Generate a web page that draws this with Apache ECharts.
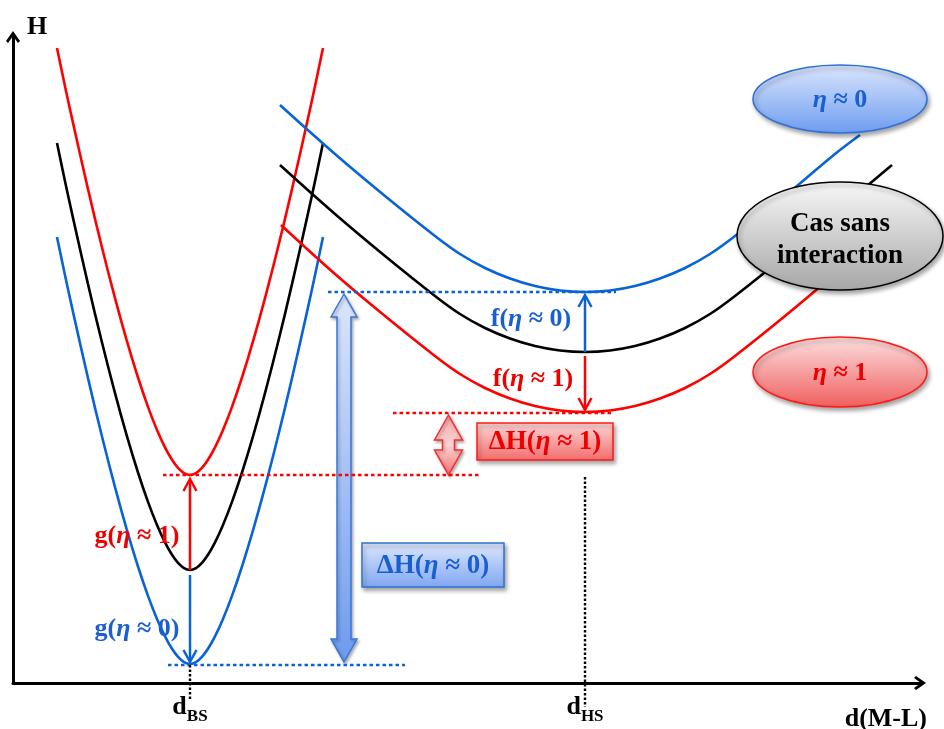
<!DOCTYPE html>
<html>
<head>
<meta charset="utf-8">
<script src="https://cdn.jsdelivr.net/npm/echarts@6/dist/echarts.min.js"></script>
<style>html,body{margin:0;padding:0;background:#fff}#chart{width:944px;height:729px}</style>
</head>
<body>
<div id="chart"></div>
<script>
// ---- values (x: d(M-L), y: H, arbitrary units from the axes corner) ----
// low-spin well (around d_BS)
const bsRed   = [[44,635],[52,596.8],[60,560.1],[75,493.9],[89,435.5],[102,384.9],[114,341.6],[125,305.5],[135,276.1],[144,253],[152,235.6],[159,223.2],[165,215.2],[171,209.9],[177,208],
                 [183,209.9],[189,215.2],[195,223.2],[202,235.6],[210,253],[219,276.1],[229,305.5],[240,341.6],[252,384.9],[265,435.5],[279,493.9],[294,560.1],[302,596.8],[310,635]];
const bsBlack = [[44,540],[52,501.8],[60,465.1],[75,398.9],[89,340.5],[102,289.9],[114,246.6],[125,210.5],[135,181.1],[144,158],[152,140.6],[159,128.2],[165,120.2],[171,114.9],[177,113],
                 [183,114.9],[189,120.2],[195,128.2],[202,140.6],[210,158],[219,181.1],[229,210.5],[240,246.6],[252,289.9],[265,340.5],[279,398.9],[294,465.1],[302,501.8],[310,540]];
const bsBlue  = [[44,446],[52,407.8],[60,371.1],[75,304.9],[89,246.5],[102,195.9],[114,152.6],[125,116.5],[135,87.1],[144,64],[152,46.6],[159,34.2],[165,26.2],[171,20.9],[177,19],
                 [183,20.9],[189,26.2],[195,34.2],[202,46.6],[210,64],[219,87.1],[229,116.5],[240,152.6],[252,195.9],[265,246.5],[279,304.9],[294,371.1],[302,407.8],[310,446]];
// high-spin well (around d_HS)
const hsBlue  = [[267,578],[322,529],[372,487],[422,447],[447,429],[472,415],[497,404.5],[522,397],[547,392.5],[572,391],[597,392.5],[622,397],[647,404.5],[672,415],[697,429],[722,447],[772,487],[822,529],[847,548]];
const hsBlack = [[267,518],[322,469],[372,427],[422,387],[447,369],[472,355],[497,344.5],[522,337],[547,332.5],[572,331],[597,332.5],[622,337],[647,344.5],[672,355],[697,369],[722,387],[772,427],[822,469],[847,491],[879,518]];
const hsRed   = [[268,458],[322,409],[372,367],[422,327],[447,309],[472,295],[497,284.5],[522,277],[547,272.5],[572,271],[597,272.5],[622,277],[647,284.5],[672,295],[697,309],[722,327],[772,367],[822,409],[847,431]];
// dotted reference levels / markers
const levelBlueHS = [[315,391],[603,391]];
const levelRedHS  = [[380,270],[600,270]];
const levelRedBS  = [[150,208],[468,208]];
const levelBlueBS = [[155,18],[392,18]];
const markerBS    = [[177,18],[177,-16]];
const markerHS    = [[572,206],[572,-24]];
// thin arrows: [x, from H, to H]
const thinArrows = [[177,113,204],[177,108,21],[572,331,388],[572,327,273]];
// block (double) arrows: [x, H top, H bottom]
const blockArrows = [[331,389,21],[435.5,268,208]];
// boxes: [center x, center H, width, height]
const boxes = [[532,241.5,136,37],[420,118,142,44]];
const boxTexts = ['ΔH(η ≈ 1)', 'ΔH(η ≈ 0)'];
// ellipses: [center x, center H, rx, ry]
const ellipses = [[827,584,87,34],[827,447,103,54],[827,311,87,35]];
const ellipseTexts = ['η ≈ 0', 'Cas sans\ninteraction', 'η ≈ 1'];
// curve labels
const curveLabelPos = [[518,364],[520,304],[124,147],[124,54]];
const curveLabelTexts = ['f(η ≈ 0)', 'f(η ≈ 1)', 'g(η ≈ 1)', 'g(η ≈ 0)'];
// x tick labels
const tickValues = [177, 572];
const tickTexts = [['d','BS'], ['d','HS']];

// ---- styles ----
const BLUE = '#0863d6', RED = '#ff0000', BLACK = '#000000';
const TBLUE = '#1a5fd0', TRED = '#ec0000';
const FONT = '"Liberation Serif","Times New Roman",serif';
const thinArrowColors = [RED, BLUE, BLUE, RED];
const blockStyle = [
  {shaft:14, head:26, headLen:23, top:'#dce6fb', bottom:'#6e9bef', stroke:'#3a78dc'},
  {shaft:12, head:28, headLen:25, top:'#f7a3a3', bottom:'#f07070', stroke:'#ff2a2a', mid:'#fbd3d3'}
];
const boxStyle = [
  {top:'#fdd6d6', bottom:'#f26c6c', stroke:'#ff1a1a', text:TRED, fs:27},
  {top:'#dde7fc', bottom:'#80a6f1', stroke:'#2f70d8', text:TBLUE, fs:27}
];
const ellipseStyle = [
  {top:'#dbe6fc', bottom:'#6e9cf0', stroke:'#2d70d8', text:TBLUE, fs:26, lh:30, dy:1},
  {top:'#f8f8f8', bottom:'#a6a6a6', stroke:'#000000', text:'#000000', fs:27, lh:32, dy:4},
  {top:'#fde0e0', bottom:'#ef5e5e', stroke:'#ff1a1a', text:TRED, fs:26, lh:30, dy:1}
];
const labelColors = [TBLUE, TRED, TRED, TBLUE];

function grad(stops) {
  return new echarts.graphic.LinearGradient(0, 0, 0, 1,
    stops.map((c, k) => ({offset: k / (stops.length - 1), color: c})));
}
function richEta(size, color) {
  return { i: {fontStyle:'italic', fontWeight:'bold', fontSize:size, fontFamily:FONT, fill:color} };
}
function fmt(t) { return t.replace(/η/g, '{i|η}'); }

function lineSeries(data, color, width, dash, z, smooth) {
  return {
    type:'line', data:data, symbol:'none', showSymbol:false, smooth:smooth || false,
    clip:false, silent:true, z:z,
    lineStyle:{color:color, width:width, type:dash || 'solid', cap:'butt'}
  };
}

const series = [
  // block arrows (behind)
  {
    type:'custom', z:1, silent:true, data:blockArrows,
    renderItem(params, api) {
      const st = blockStyle[params.dataIndex];
      const a = api.coord([api.value(0), api.value(1)]);
      const b = api.coord([api.value(0), api.value(2)]);
      const x = a[0], yt = Math.min(a[1], b[1]), yb = Math.max(a[1], b[1]);
      const hw = st.head / 2, sw = st.shaft / 2, hl = st.headLen;
      const pts = [[x,yt],[x+hw,yt+hl],[x+sw,yt+hl],[x+sw,yb-hl],[x+hw,yb-hl],[x,yb],
                   [x-hw,yb-hl],[x-sw,yb-hl],[x-sw,yt+hl],[x-hw,yt+hl]];
      const fill = st.mid ? grad([st.top, st.mid, st.bottom]) : grad([st.top, st.bottom]);
      return {type:'polygon', shape:{points:pts},
        style:{fill:fill, stroke:st.stroke, lineWidth:1.5,
               shadowBlur:3, shadowOffsetX:1.5, shadowOffsetY:2, shadowColor:'rgba(0,0,0,0.3)'}};
    }
  },
  lineSeries(bsRed, RED, 2.6, null, 2, 0.4),
  lineSeries(bsBlack, BLACK, 2.6, null, 2, 0.4),
  lineSeries(bsBlue, BLUE, 2.6, null, 2, 0.4),
  lineSeries(hsBlue, BLUE, 2.6, null, 2, 0.4),
  lineSeries(hsBlack, BLACK, 2.6, null, 2, 0.4),
  lineSeries(hsRed, RED, 2.6, null, 2, 0.4),
  lineSeries(levelBlueHS, BLUE, 2.6, [3.5,3], 3),
  lineSeries(levelRedHS, RED, 2.6, [3.5,3], 3),
  lineSeries(levelRedBS, RED, 2.6, [3.5,3], 3),
  lineSeries(levelBlueBS, BLUE, 2.6, [3.5,3], 3),
  lineSeries(markerBS, BLACK, 2.4, [2.5,2], 3),
  lineSeries(markerHS, BLACK, 2.4, [2.5,2], 3),
  // thin arrows
  {
    type:'custom', z:4, silent:true, data:thinArrows,
    renderItem(params, api) {
      const col = thinArrowColors[params.dataIndex];
      const p1 = api.coord([api.value(0), api.value(1)]);
      const p2 = api.coord([api.value(0), api.value(2)]);
      const dir = p2[1] > p1[1] ? 1 : -1;
      return {type:'group', children:[
        {type:'line', shape:{x1:p1[0], y1:p1[1], x2:p2[0], y2:p2[1] - dir}, style:{stroke:col, lineWidth:2.5}},
        {type:'polyline', shape:{points:[[p2[0]-6.5, p2[1]-dir*12],[p2[0], p2[1]],[p2[0]+6.5, p2[1]-dir*12]]},
         style:{stroke:col, lineWidth:2.5, fill:null}}
      ]};
    }
  },
  // curve labels
  {
    type:'custom', z:5, silent:true, data:curveLabelPos,
    renderItem(params, api) {
      const i = params.dataIndex, col = labelColors[i];
      const c = api.coord([api.value(0), api.value(1)]);
      return {type:'text', style:{x:c[0], y:c[1], text:fmt(curveLabelTexts[i]), align:'center', verticalAlign:'middle',
        fill:col, fontSize:26, fontWeight:'bold', fontFamily:FONT, rich:richEta(26, col)}};
    }
  },
  // boxes
  {
    type:'custom', z:5, silent:true, data:boxes,
    renderItem(params, api) {
      const i = params.dataIndex, st = boxStyle[i];
      const c = api.coord([api.value(0), api.value(1)]);
      const s = api.size([api.value(2), api.value(3)]);
      return {type:'group', children:[
        {type:'rect', shape:{x:c[0]-s[0]/2, y:c[1]-s[1]/2, width:s[0], height:s[1]},
         style:{fill:grad([st.top, st.bottom]), stroke:st.stroke, lineWidth:1.5,
                shadowBlur:4, shadowOffsetX:2, shadowOffsetY:3, shadowColor:'rgba(0,0,0,0.35)'}},
        {type:'text', style:{x:c[0], y:c[1]+1, text:fmt(boxTexts[i]), align:'center', verticalAlign:'middle',
         fill:st.text, fontSize:st.fs, fontWeight:'bold', fontFamily:FONT, rich:richEta(st.fs, st.text)}}
      ]};
    }
  },
  // ellipses
  {
    type:'custom', z:6, silent:true, data:ellipses,
    renderItem(params, api) {
      const i = params.dataIndex, st = ellipseStyle[i];
      const c = api.coord([api.value(0), api.value(1)]);
      const s = api.size([api.value(2), api.value(3)]);
      return {type:'group', children:[
        {type:'ellipse', shape:{cx:c[0], cy:c[1], rx:s[0], ry:s[1]},
         style:{fill:grad([st.top, st.bottom]), stroke:st.stroke, lineWidth:1.5,
                shadowBlur:4, shadowOffsetX:2, shadowOffsetY:3, shadowColor:'rgba(0,0,0,0.35)'}},
        {type:'text', style:{x:c[0], y:c[1]+st.dy, text:fmt(ellipseTexts[i]), align:'center', verticalAlign:'middle',
         fill:st.text, fontSize:st.fs, fontWeight:'bold', fontFamily:FONT, lineHeight:st.lh, rich:richEta(st.fs, st.text)}}
      ]};
    }
  }
];

// chevron arrow-head for the axes (pointing up in its own frame)
const chevron = 'path://M7,0 L14,10 L12,12 L7,5 L2,12 L0,10 Z';

const chart = echarts.init(document.getElementById('chart'), null, {renderer:'canvas'});
chart.setOption({
  animation:false,
  backgroundColor:'#ffffff',
  grid:{left:13, right:24, top:37, bottom:46, containLabel:false, outerBoundsMode:'none'},
  xAxis:{
    type:'value', min:0, max:907,
    name:'d(M-L)', nameLocation:'end', nameGap:7,
    nameTextStyle:{align:'right', verticalAlign:'top', padding:[23,0,0,0], fontSize:26, fontWeight:'bold', fontFamily:FONT, color:'#000'},
    axisLine:{show:true, onZero:false, symbol:['none', chevron], symbolSize:[14,12], lineStyle:{color:'#000', width:3}},
    axisTick:{show:false},
    splitLine:{show:false},
    axisLabel:{
      show:true, customValues:tickValues, margin:11,
      formatter(v) {
        const k = tickValues.indexOf(v);
        return k < 0 ? '' : '{d|' + tickTexts[k][0] + '}{s|' + tickTexts[k][1] + '}';
      },
      rich:{
        d:{fontSize:26, fontWeight:'bold', fontFamily:FONT, color:'#000', padding:[0,0,5,0]},
        s:{fontSize:17, fontWeight:'bold', fontFamily:FONT, color:'#000', verticalAlign:'bottom'}
      }
    }
  },
  yAxis:{
    type:'value', min:0, max:646,
    name:'H', nameLocation:'end', nameGap:-3,
    nameTextStyle:{align:'left', verticalAlign:'bottom', padding:[0,0,0,14], fontSize:26, fontWeight:'bold', fontFamily:FONT, color:'#000'},
    axisLine:{show:true, onZero:false, symbol:['none', chevron], symbolSize:[14,12], lineStyle:{color:'#000', width:3}},
    axisTick:{show:false},
    axisLabel:{show:false},
    splitLine:{show:false}
  },
  series:series
});
</script>
</body>
</html>
